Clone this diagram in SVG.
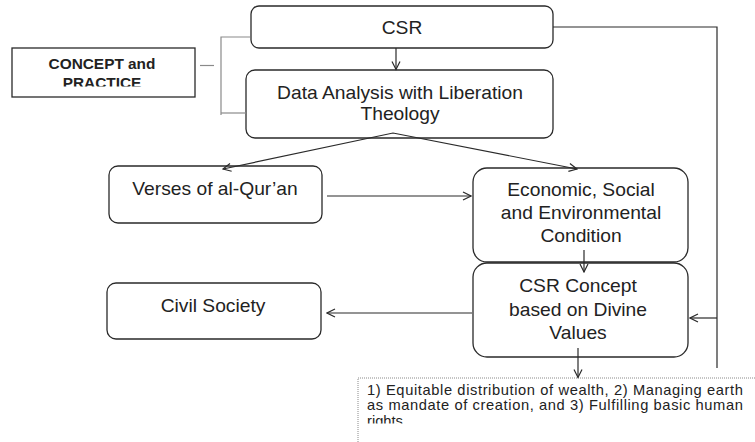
<svg xmlns="http://www.w3.org/2000/svg" width="755" height="442" viewBox="0 0 755 442">
<defs>
<style>
.box{fill:#fff;stroke:#2a2a2a;stroke-width:1.3}
.sq{fill:#fff;stroke:#2a2a2a;stroke-width:1.3}
.dot{fill:#fff;stroke:#8a8a8a;stroke-width:1;stroke-dasharray:1 1}
.t{font-family:"Liberation Sans",Arial,sans-serif;font-size:17.5px;fill:#222;text-anchor:middle}
.b{font-family:"Liberation Sans",Arial,sans-serif;font-size:14px;font-weight:bold;fill:#222;text-anchor:middle}
.s{font-family:"Liberation Sans",Arial,sans-serif;font-size:14px;fill:#222}
.ln{fill:none;stroke:#2a2a2a;stroke-width:1.2}
.gr{fill:none;stroke:#8a8a8a;stroke-width:1.2}
</style>
<marker id="ah" viewBox="0 0 10 10" refX="9" refY="5" markerWidth="10" markerHeight="10" markerUnits="userSpaceOnUse" orient="auto-start-reverse">
<path d="M1,1 L9,5 L1,9" fill="none" stroke="#2a2a2a" stroke-width="1.2"/>
</marker>
<clipPath id="cc"><rect x="12" y="48" width="183" height="38.5"/></clipPath>
<clipPath id="cb"><rect x="358" y="378" width="400" height="45.5"/></clipPath>
</defs>

<g id="csr">
<rect class="box" x="251" y="6" width="302" height="42" rx="8"/>
<text class="t" transform="translate(402 34) scale(1.1 1)">CSR</text>
</g>

<g id="concept-practice">
<rect class="sq" x="12" y="48" width="183" height="49"/>
<g clip-path="url(#cc)">
<text class="b" transform="translate(102 69) scale(1.1 1)">CONCEPT and</text>
<text class="b" transform="translate(102 88) scale(1.1 1)">PRACTICE</text>
</g>
</g>

<g id="data-analysis">
<rect class="box" x="246" y="70" width="307" height="68" rx="9"/>
<text class="t" transform="translate(400 99) scale(1.1 1)">Data Analysis with Liberation</text>
<text class="t" transform="translate(400 120) scale(1.1 1)">Theology</text>
</g>

<g id="verses">
<rect class="box" x="109" y="166" width="213" height="57" rx="9"/>
<text class="t" transform="translate(215 195) scale(1.1 1)">Verses of al-Qur’an</text>
</g>

<g id="economic">
<rect class="box" x="473" y="168" width="215" height="94" rx="14"/>
<text class="t" transform="translate(581 196) scale(1.1 1)">Economic, Social</text>
<text class="t" transform="translate(581 219) scale(1.1 1)">and Environmental</text>
<text class="t" transform="translate(581 242) scale(1.1 1)">Condition</text>
</g>

<g id="csr-concept">
<rect class="box" x="473" y="263" width="215" height="94" rx="14"/>
<text class="t" transform="translate(578 292) scale(1.1 1)">CSR Concept</text>
<text class="t" transform="translate(578 316) scale(1.1 1)">based on Divine</text>
<text class="t" transform="translate(578 339) scale(1.1 1)">Values</text>
</g>

<g id="civil-society">
<rect class="box" x="107" y="283" width="214" height="56" rx="9"/>
<text class="t" transform="translate(213 312) scale(1.1 1)">Civil Society</text>
</g>

<g id="principles">
<rect class="dot" x="358" y="378" width="400" height="70"/>
<g clip-path="url(#cb)">
<text class="s" transform="translate(367 395) scale(1.05 1)" textLength="358" lengthAdjust="spacing">1) Equitable distribution of wealth, 2) Managing earth</text>
<text class="s" transform="translate(367 410) scale(1.05 1)" textLength="358" lengthAdjust="spacing">as mandate of creation, and 3) Fulfilling basic human</text>
<text class="s" transform="translate(367 426) scale(1.05 1)">rights</text>
</g>
</g>

<g id="connectors">
<line class="ln" x1="396" y1="48" x2="396" y2="69.5" marker-end="url(#ah)"/>
<polyline class="ln" points="577,169 393,133 223,169" marker-start="url(#ah)" marker-end="url(#ah)"/>
<line class="ln" x1="327" y1="196" x2="471" y2="196" marker-end="url(#ah)"/>
<line class="ln" x1="584" y1="250" x2="584" y2="272" marker-end="url(#ah)"/>
<line class="ln" x1="472" y1="313" x2="327" y2="313" marker-end="url(#ah)"/>
<polyline class="ln" points="553,27 717,27 717,368"/>
<line class="ln" x1="717" y1="318" x2="690" y2="318" marker-end="url(#ah)"/>
<line class="ln" x1="578" y1="348" x2="578" y2="377.5" marker-end="url(#ah)"/>
<polyline class="gr" points="250,37 221,37 221,115"/>
<line class="gr" x1="221" y1="113" x2="246" y2="113"/>
<line class="gr" x1="200" y1="65.5" x2="214" y2="65.5"/>
</g>
</svg>
